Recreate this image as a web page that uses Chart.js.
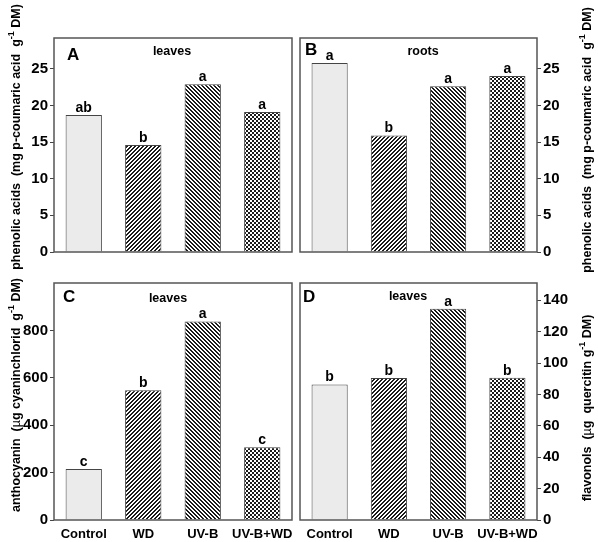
<!DOCTYPE html>
<html>
<head>
<meta charset="utf-8">
<script src="https://cdn.jsdelivr.net/npm/chart.js@4.4.1/dist/chart.umd.min.js"></script>
<style>
  html, body { margin: 0; padding: 0; background: #fff; }
  #wrap { position: relative; width: 598px; height: 542px; }
  #wrap canvas { position: absolute; left: 0; top: 0; }
</style>
</head>
<body>
<div id="wrap">
  <canvas id="chartA" width="598" height="542"></canvas>
  <canvas id="chartB" width="598" height="542"></canvas>
  <canvas id="chartC" width="598" height="542"></canvas>
  <canvas id="chartD" width="598" height="542"></canvas>
</div>
<script>
const CATEGORIES = ["Control", "WD", "UV-B", "UV-B+WD"];

const PHENOL_LEAVES = [18.7, 14.6, 22.9, 19.1];
const PHENOL_ROOTS = [25.8, 15.9, 22.6, 24.0];
const ANTHOCYANIN = [215, 547, 838, 307];
const FLAVONOLS = [86.4, 90.5, 134.6, 90.7];

const LETTERS_A = ["ab", "b", "a", "a"];
const LETTERS_B = ["a", "b", "a", "a"];
const LETTERS_C = ["c", "b", "a", "c"];
const LETTERS_D = ["b", "b", "a", "b"];

const PHENOL_TICKS = [0, 5, 10, 15, 20, 25];
const ANTHO_TICKS = [0, 200, 400, 600, 800];
const FLAV_TICKS = [0, 20, 40, 60, 80, 100, 120, 140];

const FONT = '"Liberation Sans", Arial, Helvetica, sans-serif';
const W = 598, H = 542;
const AXIS_W = 50, XAXIS_H = 22;

// 4x4 pixel tiles, like the old plotting program's fills
function makePattern(kind) {
  const c = document.createElement("canvas");
  c.width = 4; c.height = 4;
  const g = c.getContext("2d");
  g.fillStyle = "#fff";
  g.fillRect(0, 0, 4, 4);
  g.fillStyle = "#1a1a1a";
  for (let y = 0; y < 4; y++) {
    for (let x = 0; x < 4; x++) {
      let on = false;
      if (kind === "up") on = (x + y) % 4 < 2;
      else if (kind === "down") on = ((x - y) % 4 + 4) % 4 < 2;
      else if (kind === "cross") on = ((x >> 1) + (y >> 1)) % 2 === 0;
      if (on) g.fillRect(x, y, 1, 1);
    }
  }
  return g.createPattern(c, "repeat");
}

const FILLS = ["#ebebeb", makePattern("up"), makePattern("down"), makePattern("cross")];

function drawRotatedTitle(ctx, cx, cy, parts) {
  ctx.save();
  ctx.translate(cx, cy);
  ctx.rotate(-Math.PI / 2);
  ctx.textBaseline = "middle";
  ctx.textAlign = "left";
  let total = 0;
  parts.forEach(p => { ctx.font = p.font; total += ctx.measureText(p.text).width; });
  let x = -total / 2;
  parts.forEach(p => {
    ctx.font = p.font;
    ctx.fillText(p.text, x, p.dy || 0);
    x += ctx.measureText(p.text).width;
  });
  ctx.restore();
}

const BOLD = "bold 12.5px " + FONT;
const SUP = "bold 9px " + FONT;
const MU = "12.5px " + FONT;

const TITLE_PHENOL = [
  { text: "phenolic acids  (mg p-coumaric acid  g", font: BOLD },
  { text: "-1", font: SUP, dy: -5 },
  { text: " DM)", font: BOLD }
];
const TITLE_ANTHO = [
  { text: "anthocyanin  (", font: BOLD },
  { text: "\u00b5", font: MU },
  { text: "g cyaninchlorid  g", font: BOLD },
  { text: "-1", font: SUP, dy: -5 },
  { text: " DM)", font: BOLD }
];
const TITLE_FLAV = [
  { text: "flavonols  (", font: BOLD },
  { text: "\u00b5", font: MU },
  { text: "g  quercitin g", font: BOLD },
  { text: "-1", font: SUP, dy: -5 },
  { text: " DM)", font: BOLD }
];

function decorPlugin(p) {
  return {
    id: "decor" + p.tag,
    afterDraw(chart) {
      const ctx = chart.ctx;
      const a = chart.chartArea;
      ctx.save();
      ctx.strokeStyle = "#555";
      ctx.lineWidth = 1.5;
      ctx.strokeRect(a.left, a.top, a.right - a.left, a.bottom - a.top);

      ctx.fillStyle = "#000";
      ctx.textAlign = "center";
      ctx.textBaseline = "alphabetic";
      ctx.font = "bold 14px " + FONT;
      chart.getDatasetMeta(0).data.forEach((bar, i) => {
        ctx.fillText(p.letters[i], bar.x, bar.y - 3);
      });

      ctx.textAlign = "left";
      ctx.font = "bold 17px " + FONT;
      ctx.fillText(p.tag, p.tagX, p.tagY);

      ctx.textAlign = "center";
      ctx.font = "bold 12.5px " + FONT;
      ctx.fillText(p.tissue, p.tissueX, p.tissueY);

      drawRotatedTitle(ctx, p.titleX, p.titleY, p.title);
      ctx.restore();
    }
  };
}

function makePanel(p) {
  const left = p.side === "left" ? p.area.l - AXIS_W : p.area.l;
  const right = p.side === "right" ? W - p.area.r - AXIS_W : W - p.area.r;
  const bottom = p.showX ? H - p.area.b - XAXIS_H : H - p.area.b;

  return new Chart(document.getElementById(p.canvas), {
    type: "bar",
    data: {
      labels: CATEGORIES,
      datasets: [{
        data: p.values,
        backgroundColor: FILLS,
        borderColor: "#444",
        borderWidth: 1,
        categoryPercentage: 1,
        barPercentage: 0.61
      }]
    },
    options: {
      responsive: false,
      animation: false,
      devicePixelRatio: 1,
      layout: { padding: { left: left, right: right, top: p.area.t, bottom: bottom } },
      plugins: { legend: { display: false }, tooltip: { enabled: false } },
      scales: {
        x: {
          display: p.showX,
          grid: { display: false, drawTicks: false },
          border: { display: false },
          afterFit: s => { s.height = XAXIS_H; },
          ticks: {
            color: "#000", padding: 7, maxRotation: 0, minRotation: 0, autoSkip: false,
            font: { family: FONT, size: 13, weight: "bold" }
          }
        },
        y: {
          position: p.side,
          min: 0,
          max: p.yMax,
          afterBuildTicks: s => { s.ticks = p.ticks.map(v => ({ value: v })); },
          afterFit: s => { s.width = AXIS_W; },
          grid: { drawOnChartArea: false, tickLength: 4, color: "#444" },
          border: { display: false },
          ticks: { color: "#000", padding: 2, font: { family: FONT, size: 15, weight: "bold" } }
        }
      }
    },
    plugins: [decorPlugin(p)]
  });
}

makePanel({
  canvas: "chartA", tag: "A", tissue: "leaves", side: "left", showX: false,
  area: { l: 54, r: 292, t: 38, b: 274 }, yMax: 29.2,
  values: PHENOL_LEAVES, letters: LETTERS_A, ticks: PHENOL_TICKS,
  tagX: 67, tagY: 60, tissueX: 172, tissueY: 55,
  title: TITLE_PHENOL, titleX: 17, titleY: 137
});
makePanel({
  canvas: "chartB", tag: "B", tissue: "roots", side: "right", showX: false,
  area: { l: 300, r: 537, t: 38, b: 274 }, yMax: 29.2,
  values: PHENOL_ROOTS, letters: LETTERS_B, ticks: PHENOL_TICKS,
  tagX: 305, tagY: 55, tissueX: 423, tissueY: 55,
  title: TITLE_PHENOL, titleX: 588, titleY: 140
});
makePanel({
  canvas: "chartC", tag: "C", tissue: "leaves", side: "left", showX: true,
  area: { l: 54, r: 292, t: 283, b: 520 }, yMax: 1000,
  values: ANTHOCYANIN, letters: LETTERS_C, ticks: ANTHO_TICKS,
  tagX: 63, tagY: 302, tissueX: 168, tissueY: 302,
  title: TITLE_ANTHO, titleX: 17, titleY: 395
});
makePanel({
  canvas: "chartD", tag: "D", tissue: "leaves", side: "right", showX: true,
  area: { l: 300, r: 537, t: 283, b: 520 }, yMax: 151,
  values: FLAVONOLS, letters: LETTERS_D, ticks: FLAV_TICKS,
  tagX: 303, tagY: 302, tissueX: 408, tissueY: 300,
  title: TITLE_FLAV, titleX: 588, titleY: 408
});
</script>
</body>
</html>
